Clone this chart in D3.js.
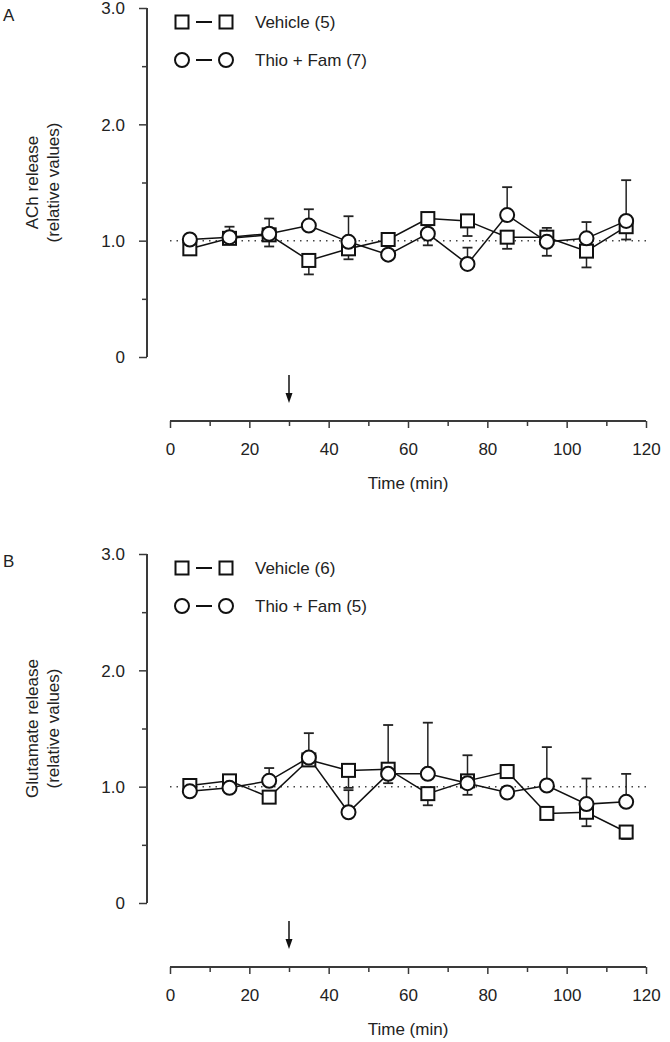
<!DOCTYPE html>
<html><head><meta charset="utf-8">
<script src="https://cdn.jsdelivr.net/npm/d3@7"></script>
<style>body{margin:0;background:#fff}svg{display:block}text{font-family:"Liberation Sans",Arial,sans-serif;fill:#222}</style>
</head><body>
<svg id="c" width="670" height="1042"></svg>
<script>
const times = [5,15,25,35,45,55,65,75,85,95,105,115];
const xTicks = [0,10,20,30,40,50,60,70,80,90,100,110,120];
const xTickLabels = ["0","20","40","60","80","100","120"];
const yTicks = [0,0.5,1,1.5,2,2.5,3];
const yTickLabels = ["0","1.0","2.0","3.0"];

// Panel A (ACh)
const vehA = [0.93,1.02,1.05,0.83,0.93,1.01,1.19,1.17,1.03,1.03,0.91,1.12];
const vehAErr = [0.03,0.10,0.10,0.12,0.09,0.03,0.04,0.13,0.10,0.08,0.14,0.11];
const vehADir = [-1,1,-1,-1,-1,1,1,-1,-1,1,-1,-1];
const thioA = [1.01,1.03,1.06,1.13,0.99,0.88,1.06,0.80,1.22,0.99,1.02,1.17];
const thioAErr = [0.03,0.05,0.13,0.14,0.22,0.03,0.10,0.14,0.24,0.12,0.14,0.35];
const thioADir = [1,-1,1,1,1,-1,-1,1,1,-1,1,1];

// Panel B (Glutamate)
const vehB = [1.01,1.05,0.91,1.23,1.14,1.15,0.94,1.05,1.13,0.77,0.78,0.61];
const vehBErr = [0.03,0.05,0.03,0.04,0.15,0.38,0.10,0.22,0.05,0.05,0.12,0.06];
const vehBDir = [1,1,-1,-1,-1,1,-1,1,1,-1,-1,-1];
const thioB = [0.96,0.99,1.05,1.25,0.78,1.11,1.11,1.03,0.95,1.01,0.85,0.87];
const thioBErr = [0.03,0.03,0.11,0.21,0.19,0.08,0.44,0.10,0.03,0.33,0.22,0.24];
const thioBDir = [-1,-1,1,1,1,-1,1,-1,-1,1,1,1];

const panels = [
  {letter:"A", title:["ACh release","(relative values)"], legend:["Vehicle (5)","Thio + Fam (7)"],
   veh:vehA, vehErr:vehAErr, vehDir:vehADir, thio:thioA, thioErr:thioAErr, thioDir:thioADir, dy:0},
  {letter:"B", title:["Glutamate release","(relative values)"], legend:["Vehicle (6)","Thio + Fam (5)"],
   veh:vehB, vehErr:vehBErr, vehDir:vehBDir, thio:thioB, thioErr:thioBErr, thioDir:thioBDir, dy:546}
];

const svg = d3.select("#c");
const x = d3.scaleLinear().domain([0,120]).range([170,646]);
const AX = "#3a3a3a";
const FS = 17;

panels.forEach(p => {
  const g = svg.append("g").attr("transform", `translate(0,${p.dy})`);
  const y = d3.scaleLinear().domain([0,3]).range([357,8]);
  const yAxisX = 147, xAxisY = 421;

  g.append("text").attr("x",3).attr("y",21).attr("font-size",FS).text(p.letter);

  // y axis
  const ya = g.append("g").attr("transform",`translate(${yAxisX},0)`)
    .call(d3.axisLeft(y).tickValues(yTicks).tickSize(8).tickFormat(""));
  ya.select(".domain").attr("stroke",AX).attr("stroke-width",2).attr("d",`M0,${y(0)}V${y(3)}`);
  ya.selectAll(".tick line").attr("stroke",AX).attr("stroke-width",1.5)
    .attr("x2", d => (Math.abs(d - Math.round(d))<1e-9) ? -8 : -5);
  ya.selectAll(".tick").filter(d => Math.abs(d - Math.round(d))<1e-9)
    .append("text").attr("x",-22).attr("dy","0.35em").attr("text-anchor","end")
    .attr("font-size",FS).attr("fill","#222").attr("font-family","Liberation Sans, Arial, sans-serif")
    .text(d => yTickLabels[Math.round(d)]);

  // y title
  const tcx = 32, tcy = (y(0)+y(3))/2;
  p.title.forEach((t,i) => {
    g.append("text").attr("transform",`translate(${tcx + i*21},${tcy}) rotate(-90)`)
      .attr("text-anchor","middle").attr("dy","0.35em").attr("font-size",FS).text(t);
  });

  // x axis
  const xa = g.append("g").attr("transform",`translate(0,${xAxisY})`)
    .call(d3.axisBottom(x).tickValues(xTicks).tickSize(6).tickFormat(""));
  xa.select(".domain").attr("stroke",AX).attr("stroke-width",2).attr("d",`M${x(0)},0H${x(120)}`);
  xa.selectAll(".tick line").attr("stroke",AX).attr("stroke-width",1.5)
    .attr("y2", d => d%20===0 ? 7 : 5);
  xa.selectAll(".tick").filter(d => d%20===0)
    .append("text").attr("y",34).attr("text-anchor","middle").attr("font-size",FS)
    .attr("fill","#222").attr("font-family","Liberation Sans, Arial, sans-serif")
    .text(d => xTickLabels[d/20]);
  g.append("text").attr("x",x(60)).attr("y",xAxisY+68).attr("text-anchor","middle")
    .attr("font-size",FS).text("Time (min)");

  // arrow at t=30
  g.append("line").attr("x1",x(30)).attr("x2",x(30)).attr("y1",375).attr("y2",395)
    .attr("stroke","#111").attr("stroke-width",1.5);
  g.append("path").attr("d",`M${x(30)-3.5},393L${x(30)+3.5},393L${x(30)},403Z`).attr("fill","#111");

  // reference dotted line
  g.append("line").attr("x1",x(0)).attr("x2",x(120)).attr("y1",y(1)).attr("y2",y(1))
    .attr("stroke","#444").attr("stroke-width",1.5).attr("stroke-dasharray","1.5,5");

  const line = d3.line().x((d,i)=>x(times[i])).y(d=>y(d));
  const series = [
    {vals:p.veh, err:p.vehErr, dir:p.vehDir, shape:"sq"},
    {vals:p.thio, err:p.thioErr, dir:p.thioDir, shape:"ci"}
  ];
  // error bars
  series.forEach(s => {
    s.vals.forEach((v,i) => {
      const e = v + s.dir[i]*s.err[i];
      const cx = x(times[i]);
      g.append("line").attr("x1",cx).attr("x2",cx).attr("y1",y(v)).attr("y2",y(e))
        .attr("stroke","#222").attr("stroke-width",1.5);
      g.append("line").attr("x1",cx-5).attr("x2",cx+5).attr("y1",y(e)).attr("y2",y(e))
        .attr("stroke","#222").attr("stroke-width",1.8);
    });
  });
  // lines
  series.forEach(s => {
    g.append("path").datum(s.vals).attr("d",line).attr("fill","none")
      .attr("stroke","#111").attr("stroke-width",1.5);
  });
  // markers
  function marker(sel, shape, cx, cy) {
    if (shape==="sq") sel.append("rect").attr("x",cx-6.5).attr("y",cy-6.5).attr("width",13).attr("height",13)
      .attr("fill","#fff").attr("stroke","#111").attr("stroke-width",2);
    else sel.append("circle").attr("cx",cx).attr("cy",cy).attr("r",7)
      .attr("fill","#fff").attr("stroke","#111").attr("stroke-width",2);
  }
  series.forEach(s => s.vals.forEach((v,i) => marker(g, s.shape, x(times[i]), y(v))));

  // legend
  const ly = [22, 60];
  series.forEach((s,k) => {
    marker(g, s.shape, 182, ly[k]);
    g.append("line").attr("x1",196).attr("x2",212).attr("y1",ly[k]).attr("y2",ly[k])
      .attr("stroke","#111").attr("stroke-width",2);
    marker(g, s.shape, 226, ly[k]);
    g.append("text").attr("x",255).attr("y",ly[k]).attr("dy","0.35em").attr("font-size",FS).text(p.legend[k]);
  });
});
</script>
</body></html>
